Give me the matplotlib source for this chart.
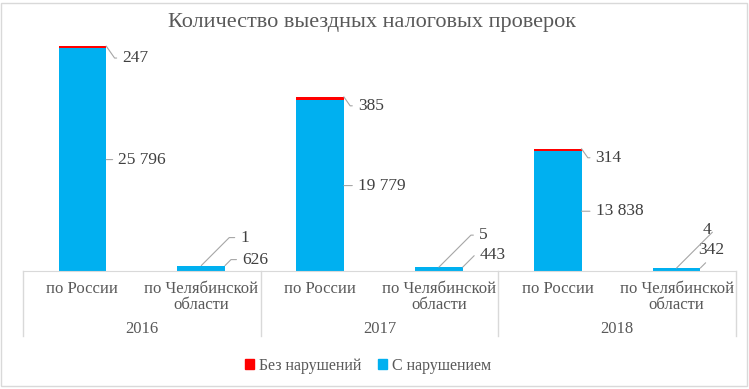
import matplotlib
matplotlib.use('Agg')
import matplotlib.pyplot as plt
from matplotlib.patches import Rectangle, Patch

# данные
years = ['2016', '2017', '2018']
regions = ['по России', 'по Челябинской\nобласти']
with_violation = [25796, 626, 19779, 443, 13838, 342]   # С нарушением
no_violation = [247, 1, 385, 5, 314, 4]                 # Без нарушений

# смещения подписей (пиксели, вверх = +)
blue_offsets = [(12, 0), (17, 6), (14, 0), (17, 12), (14, 0), (-2, 18)]
red_offsets = [(16, -12), (39, 28), (14, -9), (40, 32), (14, -9), (26, 38)]

plt.rcParams['font.family'] = ['Liberation Serif', 'DejaVu Serif']
text_c = '#595959'
line_c = '#a6a6a6'
blue = '#00b0f0'
red = '#ff0000'

fig = plt.figure(figsize=(7.49, 3.89), dpi=100)
fig.patches.append(Rectangle((0.002, 0.008), 0.995, 0.985, transform=fig.transFigure,
                             fill=False, edgecolor='#d9d9d9', linewidth=1))
ax = fig.add_axes([23 / 749, 118 / 389, 713 / 749, 241 / 389])

x = list(range(len(with_violation)))
ax.bar(x, with_violation, width=0.4, color=blue)
ax.bar(x, no_violation, width=0.4, bottom=with_violation, color=red)
ax.set_xlim(-0.5, len(x) - 0.5)
ax.set_ylim(0, 27900)

for s in ['top', 'left', 'right']:
    ax.spines[s].set_visible(False)
ax.spines['bottom'].set_color('#d9d9d9')
ax.set_yticks([])
ax.set_xticks(x)
ax.set_xticklabels(regions * len(years), fontsize=12, color=text_c, va='top',
                   linespacing=1.0)
ax.tick_params(axis='x', length=0, pad=7)

# годы и разделители
for i, yr in enumerate(years):
    ax.annotate(yr, xy=(2 * i + 0.5, 0), xycoords=('data', 'axes fraction'),
                xytext=(0, -42), textcoords='offset points', ha='center', va='center',
                fontsize=12, color=text_c)
for xv in [-0.5, 1.5, 3.5, 5.5]:
    ax.axvline(xv, ymin=-65 / 241, ymax=0, clip_on=False, color='#d9d9d9', linewidth=1)

px = 0.72  # пикселей в пункты
for i in x:
    right = i + 0.2
    dx, dy = blue_offsets[i]
    if i % 2 == 0:
        xy = (right, with_violation[i] / 2)
        cs = 'arc3'
    else:
        xy = (right, with_violation[i])
        cs = 'angle,angleA=0,angleB=45,rad=0'
    ax.annotate(f'{with_violation[i]:,}'.replace(',', ' '), xy=xy,
                xytext=(dx * px, dy * px), textcoords='offset points',
                ha='left', va='center', fontsize=12.5, color='#404040',
                arrowprops=dict(arrowstyle='-', color=line_c, lw=0.8, shrinkA=2, shrinkB=0,
                                relpos=(0, 0.5), connectionstyle=cs))
    dx, dy = red_offsets[i]
    top = with_violation[i] + no_violation[i]
    xy = (right, top) if i % 2 == 0 else (i, top)
    ang = -55 if i % 2 == 0 else 45
    ax.annotate(str(no_violation[i]), xy=xy,
                xytext=(dx * px, dy * px), textcoords='offset points',
                ha='left', va='center', fontsize=12.5, color='#404040',
                arrowprops=dict(arrowstyle='-', color=line_c, lw=0.8, shrinkA=2, shrinkB=0,
                                relpos=(0, 0.5),
                                connectionstyle=f'angle,angleA=0,angleB={ang},rad=0'))

fig.text(372 / 749, 1 - 23 / 389, 'Количество выездных налоговых проверок',
         ha='center', va='center', fontsize=16, color=text_c)

handles = [Patch(color=red, label='Без нарушений'), Patch(color=blue, label='С нарушением')]
fig.legend(handles=handles, loc='center', bbox_to_anchor=(368 / 749, 23 / 389), ncol=2,
           frameon=False, fontsize=11.5, handlelength=0.6, handleheight=0.6,
           handletextpad=0.3, columnspacing=1.0, labelcolor=text_c)

fig.savefig('out.png', dpi=100)
